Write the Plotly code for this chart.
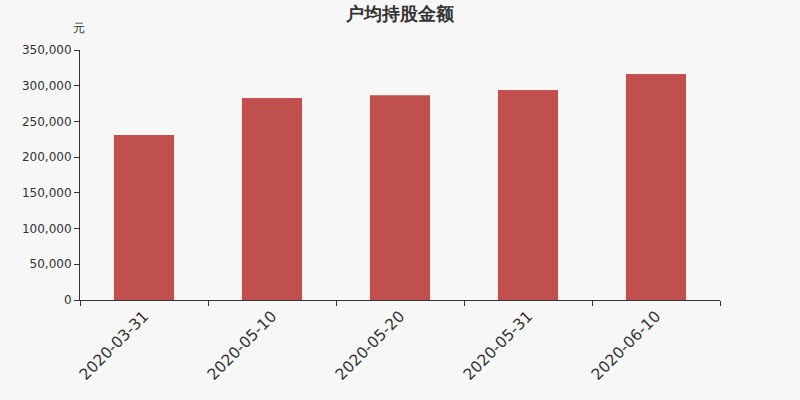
import plotly.graph_objects as go

dates = ['2020-03-31', '2020-05-10', '2020-05-20', '2020-05-31', '2020-06-10']
avg_amount = [231000, 282800, 286500, 294000, 316400]
y_ticks = [0, 50000, 100000, 150000, 200000, 250000, 300000, 350000]

FONT = 'DejaVu Sans'

fig = go.Figure(go.Bar(
  x=dates, y=avg_amount,
  marker=dict(color='#c0504d', line=dict(width=0)),
  width=0.47, hoverinfo='none',
))
fig.update_layout(
  width=800, height=400,
  paper_bgcolor='#f7f7f7', plot_bgcolor='#f7f7f7',
  margin=dict(l=80, r=80, t=50, b=100),
  font=dict(family=FONT, size=12, color='#333'),
  title=dict(text='<b>户均持股金额</b>', x=0.5, xanchor='center', y=0.965, yanchor='middle',
             font=dict(size=18, color='#333')),
  showlegend=False,
  xaxis=dict(type='category', showline=True, linecolor='#333', linewidth=1,
             ticks='outside', ticklen=5, tickcolor='#333', tickson='boundaries',
             tickangle=-45, tickfont=dict(size=15.5, color='#333'), showgrid=False),
  yaxis=dict(range=[0, 350000], tickvals=y_ticks, tickformat=',', showline=True,
             linecolor='#333', linewidth=1, ticks='outside', ticklen=5, tickcolor='#333',
             showgrid=False, zeroline=False, tickfont=dict(size=12, color='#333')),
)
fig.add_annotation(text='元', xref='paper', yref='paper', x=-0.002, y=1.088,
                   xanchor='center', yanchor='middle', showarrow=False,
                   font=dict(size=12, color='#333'))
# drop the default page margin so the 800x400 figure fills the window
fig.write_html('out.html', config={'displayModeBar': False},
               post_script="document.body.style.margin='0';document.body.style.background='#f7f7f7';")
